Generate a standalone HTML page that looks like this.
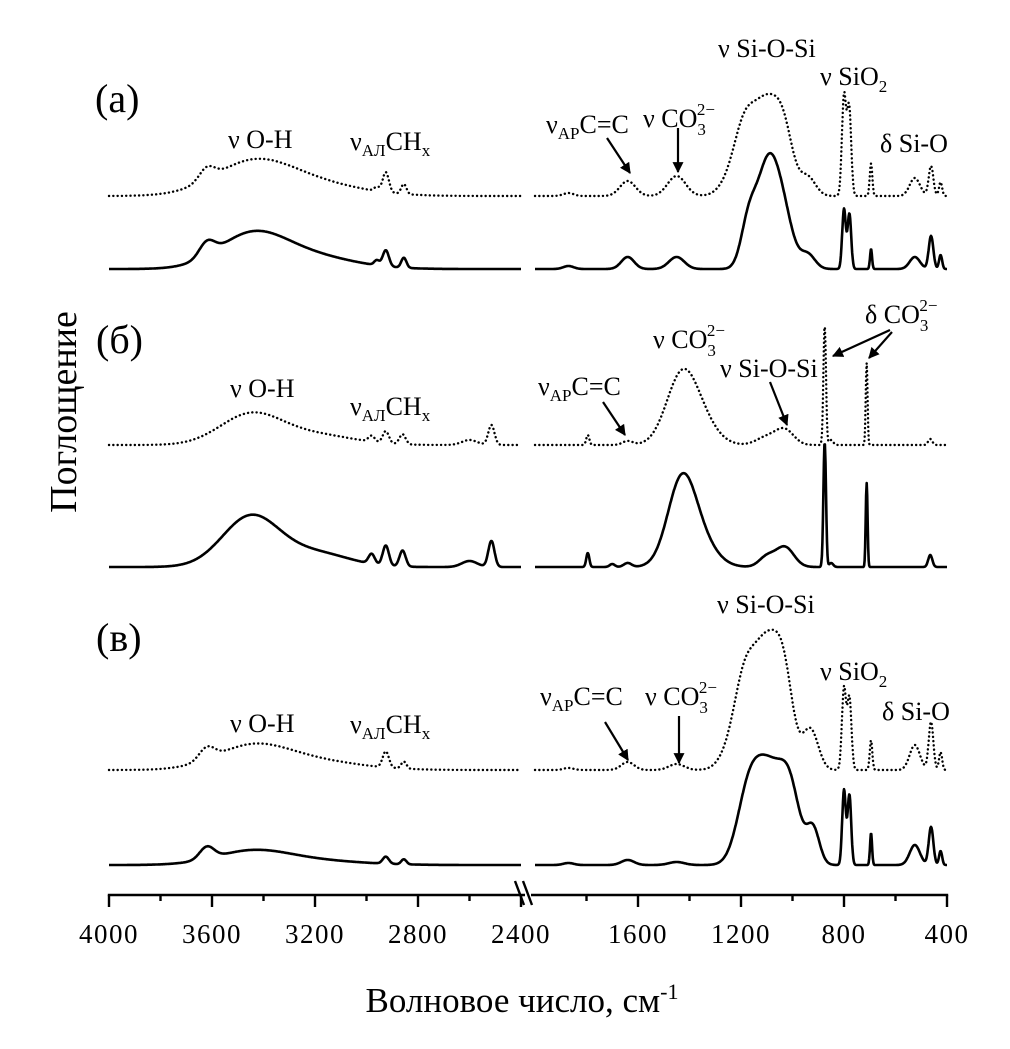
<!DOCTYPE html>
<html><head><meta charset="utf-8">
<style>
html,body{margin:0;padding:0;background:#fff;}
svg{display:block;font-family:"Liberation Serif","DejaVu Serif",serif;}
</style></head>
<body>
<svg id="chart" width="1010" height="1049" viewBox="0 0 1010 1049" xmlns="http://www.w3.org/2000/svg">
<defs>
<marker id="ah" viewBox="0 0 10 10" refX="9" refY="5" markerWidth="5" markerHeight="5" orient="auto"><path d="M0,0 L10,5 L0,10 z" fill="#000"/></marker>
</defs>
<g id="plot"></g>
<g id="axis"></g>

<text x="95" y="112" font-size="40">(a)</text>
<text x="96" y="353" font-size="40">(б)</text>
<text x="96" y="651" font-size="40">(в)</text>

<text transform="translate(76,412) rotate(-90)" text-anchor="middle" font-size="38">Поглощение</text>
<text x="522" y="1012" text-anchor="middle" font-size="35">Волновое число, см<tspan dy="-13" font-size="22">-1</tspan></text>

<g font-size="26">
<text x="228" y="148">ν O-H</text>
<text x="350" y="150">ν<tspan dy="6" font-size="17">АЛ</tspan><tspan dy="-6">CH</tspan><tspan dy="6" font-size="17">x</tspan></text>
<text x="546" y="133">ν<tspan dy="6" font-size="17">АР</tspan><tspan dy="-6">C=C</tspan></text>
<text x="643" y="127">ν CO<tspan dy="8" font-size="17">3</tspan><tspan dx="-9" dy="-20" font-size="17">2−</tspan></text>
<text x="718" y="57">ν Si-O-Si</text>
<text x="820" y="85">ν SiO<tspan dy="7" font-size="17">2</tspan></text>
<text x="880" y="152">δ Si-O</text>
<line x1="607" y1="138" x2="630" y2="173" stroke="#000" stroke-width="2.2" marker-end="url(#ah)"/>
<line x1="678" y1="128" x2="678" y2="172" stroke="#000" stroke-width="2.2" marker-end="url(#ah)"/>
</g>

<g font-size="26">
<text x="230" y="397">ν O-H</text>
<text x="350" y="415">ν<tspan dy="6" font-size="17">АЛ</tspan><tspan dy="-6">CH</tspan><tspan dy="6" font-size="17">x</tspan></text>
<text x="538" y="395">ν<tspan dy="6" font-size="17">АР</tspan><tspan dy="-6">C=C</tspan></text>
<text x="653" y="348">ν CO<tspan dy="8" font-size="17">3</tspan><tspan dx="-9" dy="-20" font-size="17">2−</tspan></text>
<text x="720" y="377">ν Si-O-Si</text>
<text x="865" y="323">δ CO<tspan dy="8" font-size="17">3</tspan><tspan dx="-9" dy="-20" font-size="17">2−</tspan></text>
<line x1="603" y1="402" x2="625" y2="435" stroke="#000" stroke-width="2.2" marker-end="url(#ah)"/>
<line x1="770" y1="382" x2="787" y2="425" stroke="#000" stroke-width="2.2" marker-end="url(#ah)"/>
<line x1="890" y1="330" x2="833" y2="356" stroke="#000" stroke-width="2.2" marker-end="url(#ah)"/>
<line x1="892" y1="332" x2="869" y2="358" stroke="#000" stroke-width="2.2" marker-end="url(#ah)"/>
</g>

<g font-size="26">
<text x="230" y="732">ν O-H</text>
<text x="350" y="733">ν<tspan dy="6" font-size="17">АЛ</tspan><tspan dy="-6">CH</tspan><tspan dy="6" font-size="17">x</tspan></text>
<text x="540" y="705">ν<tspan dy="6" font-size="17">АР</tspan><tspan dy="-6">C=C</tspan></text>
<text x="645" y="705">ν CO<tspan dy="8" font-size="17">3</tspan><tspan dx="-9" dy="-20" font-size="17">2−</tspan></text>
<text x="717" y="613">ν Si-O-Si</text>
<text x="820" y="680">ν SiO<tspan dy="7" font-size="17">2</tspan></text>
<text x="882" y="720">δ Si-O</text>
<line x1="605" y1="722" x2="628" y2="760" stroke="#000" stroke-width="2.2" marker-end="url(#ah)"/>
<line x1="679" y1="716" x2="679" y2="763" stroke="#000" stroke-width="2.2" marker-end="url(#ah)"/>
</g>
</svg>
<script>
// Axis tick data
const majorTicksLeft = [4000, 3600, 3200, 2800, 2400];
const majorTicksRight = [1600, 1200, 800, 400];
const tickLabelsLeft = ["4000", "3600", "3200", "2800", "2400"];
const tickLabelsRight = ["1600", "1200", "800", "400"];
const minorTicksLeft = [3800, 3400, 3000, 2600];
const minorTicksRight = [1800, 1400, 1000, 600];

// Spectra: peak centers (cm-1), heights (a.u.), widths (cm-1)
const aDotC = [3620, 3450, 3250, 2960, 2925, 2855, 1870, 1640, 1450, 1250, 1190, 1100, 1030, 940, 800, 780, 695, 525, 462, 425];
const aDotH = [12, 28, 14, 4, 20, 10, 3, 15, 20, 10, 55, 92, 40, 18, 100, 88, 33, 18, 30, 14];
const aDotW = [30, 150, 200, 10, 12, 10, 20, 30, 35, 40, 40, 55, 35, 30, 8, 8, 5, 20, 9, 6];
const aSolC = [3620, 3450, 3250, 2960, 2925, 2855, 1870, 1640, 1450, 1170, 1100, 1040, 940, 800, 779, 695, 525, 462, 425];
const aSolH = [14, 30, 14, 5, 16, 10, 3, 12, 12, 45, 92, 55, 14, 60, 55, 20, 12, 33, 14];
const aSolW = [30, 130, 180, 10, 12, 10, 20, 25, 30, 30, 40, 40, 28, 7, 7, 4, 20, 9, 6];

const bDotC = [3450, 3200, 2980, 2925, 2860, 2600, 2515, 1795, 1640, 1430, 1350, 1100, 1030, 875, 850, 712, 465];
const bDotH = [30, 10, 6, 12, 10, 5, 20, 10, 4, 68, 18, 8, 15, 120, 5, 82, 6];
const bDotW = [120, 150, 12, 12, 12, 30, 12, 6, 20, 60, 60, 40, 35, 5, 8, 3.5, 8];
const bSolC = [3450, 3200, 2980, 2925, 2860, 2600, 2515, 1795, 1700, 1640, 1430, 1350, 1100, 1030, 875, 850, 712, 465];
const bSolH = [50, 14, 10, 20, 16, 6, 26, 14, 3, 4, 85, 20, 10, 20, 125, 4, 84, 12];
const bSolW = [110, 130, 12, 12, 12, 30, 12, 6, 10, 15, 55, 60, 30, 35, 5, 8, 3.5, 8];

const vDotC = [3620, 3450, 3250, 2925, 2855, 1870, 1640, 1450, 1250, 1190, 1100, 1030, 930, 800, 779, 695, 525, 462, 425];
const vDotH = [12, 20, 10, 16, 7, 2, 8, 6, 12, 70, 125, 60, 40, 82, 72, 30, 25, 48, 18];
const vDotW = [30, 140, 200, 12, 10, 20, 25, 30, 40, 40, 55, 35, 30, 8, 8, 5, 20, 9, 6];
const vSolC = [3620, 3450, 3250, 2925, 2855, 1870, 1640, 1450, 1170, 1090, 1010, 920, 800, 779, 695, 525, 462, 425];
const vSolH = [12, 12, 5, 7, 5, 2, 5, 3, 70, 85, 70, 35, 75, 70, 32, 20, 38, 14];
const vSolW = [28, 140, 200, 12, 10, 20, 25, 30, 45, 50, 40, 25, 7, 7, 4, 20, 9, 6];

const series = [
  {name: "spectrum-a-dotted", c: aDotC, h: aDotH, w: aDotW, base: 196, dotted: true},
  {name: "spectrum-a-solid", c: aSolC, h: aSolH, w: aSolW, base: 269, dotted: false},
  {name: "spectrum-b-dotted", c: bDotC, h: bDotH, w: bDotW, base: 445, dotted: true},
  {name: "spectrum-b-solid", c: bSolC, h: bSolH, w: bSolW, base: 567, dotted: false},
  {name: "spectrum-v-dotted", c: vDotC, h: vDotH, w: vDotW, base: 770, dotted: true},
  {name: "spectrum-v-solid", c: vSolC, h: vSolH, w: vSolW, base: 865, dotted: false}
];

const NS = "http://www.w3.org/2000/svg";
const pxPerCm = 103 / 400;
function xScale(w) {
  if (w >= 2400) return 109 + (4000 - w) * pxPerCm;
  return 535 + (2000 - w) * pxPerCm;
}
function absorb(s, w) {
  let v = 0;
  for (let i = 0; i < s.c.length; i++) {
    const d = (w - s.c[i]) / s.w[i];
    v += s.h[i] * Math.exp(-0.5 * d * d);
  }
  return v;
}
function yScale(s, v) { return s.base - v; }

const plot = document.getElementById("plot");
series.forEach(s => {
  [[4000, 2400], [2000, 400]].forEach(seg => {
    let d = "";
    for (let w = seg[0]; w >= seg[1]; w -= 2) {
      d += (w === seg[0] ? "M" : "L") + xScale(w).toFixed(1) + "," + yScale(s, absorb(s, w)).toFixed(1);
    }
    const p = document.createElementNS(NS, "path");
    p.setAttribute("d", d);
    p.setAttribute("fill", "none");
    p.setAttribute("stroke", "#000");
    p.setAttribute("stroke-linejoin", "round");
    if (s.dotted) {
      p.setAttribute("stroke-width", "2.4");
      p.setAttribute("stroke-dasharray", "0.1 4.2");
      p.setAttribute("stroke-linecap", "round");
    } else {
      p.setAttribute("stroke-width", "2.6");
    }
    
    
    plot.appendChild(p);
  });
});

// axis
const axis = document.getElementById("axis");
const AY = 895;
function line(x1, y1, x2, y2, name) {
  const l = document.createElementNS(NS, "line");
  l.setAttribute("x1", x1); l.setAttribute("y1", y1);
  l.setAttribute("x2", x2); l.setAttribute("y2", y2);
  l.setAttribute("stroke", "#000"); l.setAttribute("stroke-width", "2.4");
  
  
  axis.appendChild(l);
}
line(107.8, AY, 525, AY, "axis-line-left");
line(531, AY, 948.2, AY, "axis-line-right");
line(515, AY - 14, 524, AY + 10, "axis-break-1");
line(523, AY - 14, 532, AY + 10, "axis-break-2");
majorTicksLeft.concat(majorTicksRight).forEach(w => line(xScale(w), AY, xScale(w), AY + 12, "major-tick"));
minorTicksLeft.concat(minorTicksRight).forEach(w => line(xScale(w), AY, xScale(w), AY + 6, "minor-tick"));
const allT = majorTicksLeft.concat(majorTicksRight);
const allL = tickLabelsLeft.concat(tickLabelsRight);
allT.forEach((w, i) => {
  const t = document.createElementNS(NS, "text");
  t.setAttribute("x", xScale(w));
  t.setAttribute("y", AY + 48);
  t.setAttribute("text-anchor", "middle");
  t.setAttribute("font-size", "27");
  t.setAttribute("letter-spacing", "1.5");
  t.textContent = allL[i];
  
  
  axis.appendChild(t);
});
</script>
</body></html>
